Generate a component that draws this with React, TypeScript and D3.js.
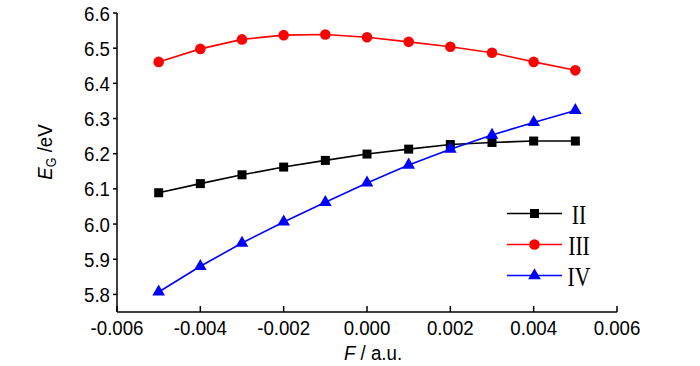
import * as d3 from "d3";

const fieldX = [-0.005, -0.004, -0.003, -0.002, -0.001, 0, 0.001, 0.002, 0.003, 0.004, 0.005];
const seriesII = [6.089, 6.115, 6.14, 6.162, 6.181, 6.199, 6.213, 6.226, 6.232, 6.236, 6.236];
const seriesIII = [6.461, 6.498, 6.525, 6.537, 6.539, 6.531, 6.518, 6.504, 6.487, 6.461, 6.437];
const seriesIV = [5.807, 5.88, 5.946, 6.006, 6.062, 6.117, 6.168, 6.213, 6.253, 6.289, 6.323];
const xTicks = [-0.006, -0.004, -0.002, 0, 0.002, 0.004, 0.006];
const yTicks = [5.8, 5.9, 6.0, 6.1, 6.2, 6.3, 6.4, 6.5, 6.6];
const legendLabels = ["II", "III", "IV"];
const colors = ["#000000", "#ff0000", "#0000ff"];

// the source font is a slightly condensed Arial
const SQ = 0.89;

export default function App({
  width = 700,
  height = 366,
  marginTop = 13,
  marginRight = 83,
  marginBottom = 54,
  marginLeft = 117,
}) {
  const scaleX = d3.scaleLinear([-0.006, 0.006], [marginLeft, width - marginRight]);
  const scaleY = d3.scaleLinear([5.75, 6.6], [height - marginBottom, marginTop]);
  const y0 = height - marginBottom;

  const series = [seriesII, seriesIII, seriesIV];
  const line = (vals: number[]) =>
    d3.line<number>((_, i) => scaleX(fieldX[i]), (d) => scaleY(d))(vals) ?? "";

  const marker = (k: number, cx: number, cy: number, key: any) => {
    const c = colors[k];
    if (k === 0) return <rect key={key} x={cx - 4.5} y={cy - 4.5} width={9} height={9} fill={c} />;
    if (k === 1) return <circle key={key} cx={cx} cy={cy} r={5.3} fill={c} />;
    const tri = d3.symbol(d3.symbolTriangle, 70)() ?? "";
    return <path key={key} d={tri} transform={`translate(${cx},${cy})`} fill={c} />;
  };

  const fmtX = (v: number) => (v === 0 ? "0.000" : d3.format(".3f")(v).replace("−", "-"));

  return (
    <svg
      width={width}
      height={height}
      style={{ position: "absolute", left: 0, top: 0, background: "#fff" }}
      fontFamily="'Liberation Sans', Arial, sans-serif"
    >
      {/* axes */}
      <g stroke="#000" strokeWidth={1.5} fill="none">
        <line x1={marginLeft} x2={marginLeft} y1={y0} y2={marginTop} />
        <line x1={marginLeft} x2={width - marginRight} y1={y0} y2={y0} />
        {yTicks.map((t) => (
          <line key={t} x1={marginLeft - 4} x2={marginLeft} y1={scaleY(t)} y2={scaleY(t)} />
        ))}
        {xTicks.map((t) => (
          <line key={t} x1={scaleX(t)} x2={scaleX(t)} y1={y0} y2={y0 - 6} />
        ))}
      </g>
      <g fontSize={21} fill="#000">
        {yTicks.map((t) => (
          <text
            key={t}
            transform={`translate(${marginLeft - 7},${scaleY(t) + 7.5}) scale(${SQ},1)`}
            textAnchor="end"
          >
            {t.toFixed(1)}
          </text>
        ))}
        {xTicks.map((t) => (
          <text
            key={t}
            transform={`translate(${scaleX(t)},${y0 + 22.5}) scale(${SQ},1)`}
            textAnchor="middle"
          >
            {fmtX(t)}
          </text>
        ))}
      </g>
      {/* axis titles */}
      <text transform={`translate(373,360) scale(${SQ},1)`} textAnchor="middle" fontSize={21}>
        <tspan fontStyle="italic">F</tspan> / a.u.
      </text>
      <text transform={`translate(52,152) rotate(-90) scale(${SQ},1)`} textAnchor="middle" fontSize={21}>
        <tspan fontStyle="italic">E</tspan>
        <tspan fontSize={14} dy={4}>G</tspan>
        <tspan dy={-4}> /eV</tspan>
      </text>
      {/* series */}
      {series.map((vals, k) => (
        <g key={k}>
          <path d={line(vals)} fill="none" stroke={colors[k]} strokeWidth={1.6} />
          {vals.map((v, i) => marker(k, scaleX(fieldX[i]), scaleY(v), i))}
        </g>
      ))}
      {/* legend */}
      {legendLabels.map((lab, k) => {
        const ly = 213.5 + k * 31;
        return (
          <g key={lab}>
            <line x1={507} x2={562} y1={ly} y2={ly} stroke={colors[k]} strokeWidth={1.6} />
            {marker(k, 534.5, ly, "m")}
            <text
              transform={`translate(579,${ly + 10}) scale(0.8,1)`}
              textAnchor="middle"
              fontFamily="'Liberation Serif', 'Times New Roman', serif"
              fontSize={27}
            >
              {lab}
            </text>
          </g>
        );
      })}
    </svg>
  );
}
